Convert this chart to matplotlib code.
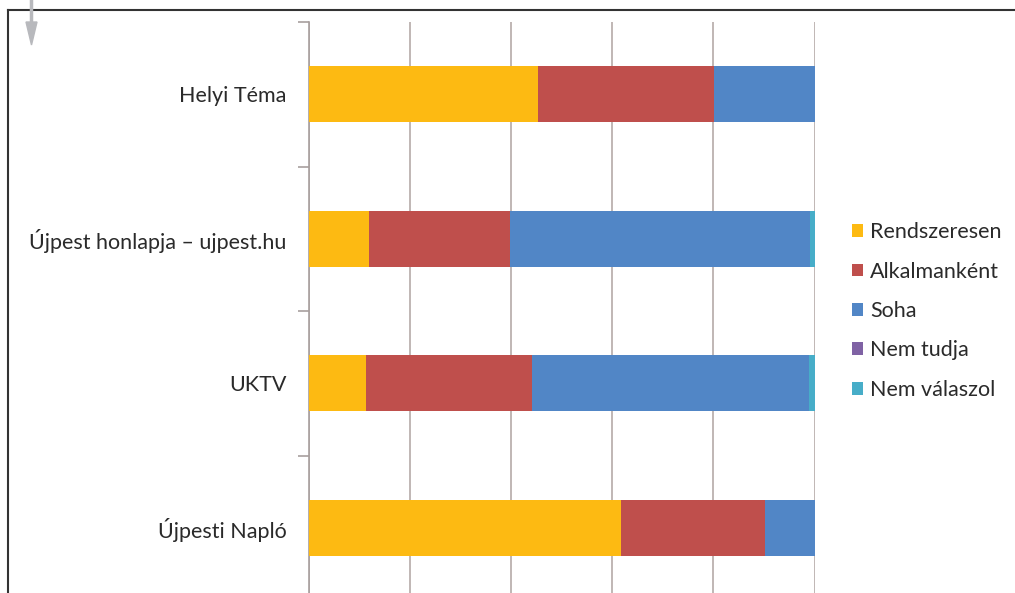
import numpy as np
import matplotlib.pyplot as plt
from matplotlib.lines import Line2D
from matplotlib.patches import Polygon

# categories from bottom to top
categories = ['Újpesti Napló', 'UKTV', 'Újpest honlapja – ujpest.hu', 'Helyi Téma']
series = ['Rendszeresen', 'Alkalmanként', 'Soha', 'Nem tudja', 'Nem válaszol']
rendszeresen = [61.7, 11.3, 11.9, 45.3]
alkalmankent = [28.4, 32.8, 27.9, 34.8]
soha = [9.9, 54.7, 59.3, 19.9]
nem_tudja = [0.0, 0.0, 0.0, 0.0]
nem_valaszol = [0.0, 1.2, 0.9, 0.0]
colors = ['#FDBA12', '#BF4F4C', '#5186C6', '#7F62A4', '#47ADC8']

plt.rcParams['font.family'] = ['Lato', 'DejaVu Sans']

W, H = 1015, 593
fig = plt.figure(figsize=(W / 100, H / 100), dpi=100)
ax = fig.add_axes([308.6 / W, (H - 600) / H, 506 / W, 578 / H])

vals = np.array([rendszeresen, alkalmankent, soha, nem_tudja, nem_valaszol])
pct = vals / vals.sum(axis=0)
ypos = np.arange(len(categories))
left = np.zeros(len(categories))
for i, name in enumerate(series):
    ax.barh(ypos, pct[i], left=left, height=0.39, color=colors[i], label=name, zorder=3)
    left += pct[i]

ax.set_xlim(0, 1)
ax.set_ylim(-0.5, 3.5)
ax.set_xticks(np.arange(0, 1.01, 0.2))
ax.xaxis.grid(True, color='#b5aaa8', lw=1.2, zorder=0)
ax.tick_params(axis='x', length=0, labelbottom=False)
ax.set_yticks(np.arange(-0.5, 3.6, 1))
ax.set_yticklabels([])
ax.set_yticks(ypos, minor=True)
ax.set_yticklabels(categories, minor=True, fontsize=15.5, color='#2a2a2a')
ax.tick_params(axis='y', which='major', length=8, color='#a89f9e', width=1.2)
ax.tick_params(axis='y', which='minor', length=0, pad=16)
for s in ['top', 'right', 'bottom']:
    ax.spines[s].set_visible(False)
ax.spines['left'].set_color('#a89f9e')
ax.spines['left'].set_linewidth(1.2)

handles, labels = ax.get_legend_handles_labels()
leg = fig.legend(handles, labels, loc='center left', bbox_to_anchor=(843 / W, 1 - 311 / H),
                 frameon=False, fontsize=15.5, handlelength=0.55, handleheight=0.55,
                 handletextpad=0.3, labelspacing=0.9, borderaxespad=0)
for t in leg.get_texts():
    t.set_color('#2a2a2a')

# page frame and arrow
fig.add_artist(Line2D([8 / W, 1], [1 - 10 / H, 1 - 10 / H], color='#333333', lw=1.5))
fig.add_artist(Line2D([8 / W, 8 / W], [0, 1 - 10 / H], color='#333333', lw=1.5))
fig.add_artist(Line2D([31 / W, 31 / W], [1, 1 - 30 / H], color='#b8b9bd', lw=2.5))
fig.add_artist(Polygon([[26 / W, 1 - 22 / H], [37 / W, 1 - 22 / H], [31.5 / W, 1 - 45 / H]],
                       closed=True, color='#b8b9bd'))

fig.savefig('out.png', dpi=100)
